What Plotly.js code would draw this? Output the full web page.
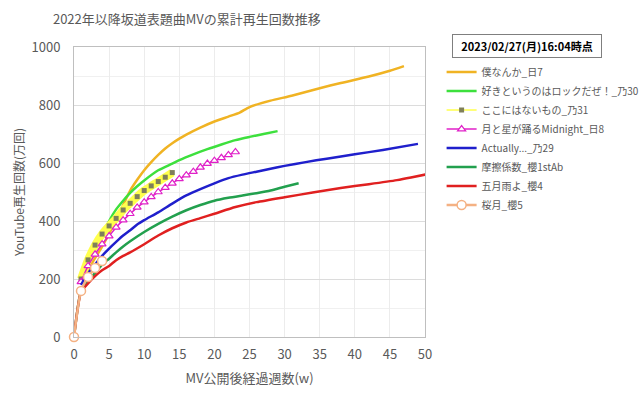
<!DOCTYPE html>
<html>
<head>
<meta charset="utf-8">
<script src="https://cdn.plot.ly/plotly-3.0.1.min.js"></script>
<style>html,body{margin:0;padding:0;background:#fff;}#chart{width:640px;height:397px;}</style>
</head>
<body>
<div id="chart"></div>
<script>
// Series names
const seriesNames = ["僕なんか_日7","好きというのはロックだぜ！_乃30","ここにはないもの_乃31","月と星が踊るMidnight_日8","Actually..._乃29","摩擦係数_櫻1stAb","五月雨よ_櫻4","桜月_櫻5"];

// 僕なんか_日7
const bokuX = [1,2,3,4,5,6,7,8,9,10,11,12,13,14,15,16,18,20,22,23.6,25,28,31,35,38,42,45,47];
const bokuY = [190,232,272,312,356,405,455,505,542,575,603,628,650,668,684,698,722,743,760,774,793,815,832,858,876,898,918,934];

// 好きというのはロックだぜ！_乃30
const sukiX = [1,2,3,4,5,6,7,8,9,10,12,14,15,17,19,21,23,25,27,29];
const sukiY = [200,255,300,350,400,440,470,497,520,540,575,598,610,630,648,664,679,690,700,710];

// ここにはないもの_乃31
const kokoX = [1,2,3,4,5,6,7,8,9,10,11,12,13,14];
const kokoY = [200,266,317,355,383,409,438,461,484,505,521,536,551,567];

// 月と星が踊るMidnight_日8
const tsukiX = [1,2,3,4,5,6,7,8,9,10,11,12,13,14,15,16,17,18,19,20,21,22,23];
const tsukiY = [190,245,285,320,348,378,403,425,447,465,483,500,515,530,545,558,570,585,598,608,618,628,638];

// Actually..._乃29
const actX = [1,2,3,4,5,6,7,8,9,10,12,14,16,18,20,22,24,26,28,30,33,36,40,44,49];
const actY = [180,220,250,280,305,328,350,368,388,403,430,460,488,510,530,548,560,570,580,590,603,615,630,645,666];

// 摩擦係数_櫻1stAb
const masaX = [0,1,2,3,4,5,6,7,8,10,12,14,16,18,20,22,24,26,28,30,32];
const masaY = [0,160,195,220,250,270,292,312,330,362,390,415,437,455,470,480,488,496,505,518,530];

// 五月雨よ_櫻4
const samiX = [0,1,2,3,4,5,6,7,8,10,12,14,16,18,20,23,26,30,34,38,42,46,48,51];
const samiY = [0,155,185,210,230,245,265,280,292,320,350,375,395,410,425,448,465,482,498,514,527,541,550,565];

// 桜月_櫻5
const sakuX = [0,1,2,3,4];
const sakuY = [0,159,207,238,262];

const xTicks = [0,5,10,15,20,25,30,35,40,45,50];
const yTicks = [0,200,400,600,800,1000];

const FONT = '"Noto Sans CJK JP", "Noto Sans", sans-serif';
const sp = {shape:'spline', smoothing:0.6};

const traces = [
  {x:bokuX, y:bokuY, name:seriesNames[0], mode:'lines', line:Object.assign({color:'#F0B323', width:2.5}, sp)},
  {x:sukiX, y:sukiY, name:seriesNames[1], mode:'lines', line:Object.assign({color:'#3DE03D', width:2.5}, sp)},
  {x:kokoX, y:kokoY, name:seriesNames[2], mode:'lines', showlegend:false, hoverinfo:'skip', line:Object.assign({color:'#FFFF4D', width:8}, sp)},
  {x:kokoX, y:kokoY, name:seriesNames[2], mode:'lines+markers', line:Object.assign({color:'#FFFF4D', width:1.5}, sp), marker:{symbol:'square', size:5, color:'#7F7F5A'}},
  {x:tsukiX, y:tsukiY, name:seriesNames[3], mode:'lines+markers', line:Object.assign({color:'#E020C8', width:1.5}, sp), marker:{symbol:'triangle-up', size:7, color:'#ffffff', line:{color:'#E020C8', width:1.2}}},
  {x:actX, y:actY, name:seriesNames[4], mode:'lines', line:Object.assign({color:'#1F1FCC', width:2.5}, sp)},
  {x:masaX, y:masaY, name:seriesNames[5], mode:'lines', line:Object.assign({color:'#22A04E', width:2.5}, sp)},
  {x:samiX, y:samiY, name:seriesNames[6], mode:'lines', line:Object.assign({color:'#E02020', width:2.5}, sp)},
  {x:sakuX, y:sakuY, name:seriesNames[7], mode:'lines+markers', cliponaxis:false, line:Object.assign({color:'#F4B183', width:2.5}, sp), marker:{symbol:'circle', size:9, color:'#ffffff', line:{color:'#F4B183', width:1.5}}}
];

const layout = {
  width:640, height:397,
  margin:{l:74, r:215, t:47, b:60, autoexpand:false},
  paper_bgcolor:'#ffffff', plot_bgcolor:'#ffffff',
  font:{family:FONT, color:'#595959', size:12},
  title:{text:'2022年以降坂道表題曲MVの累計再生回数推移', font:{family:FONT, size:13, color:'#595959'}, xref:'container', x:0.292, xanchor:'center', yref:'container', y:0.95, yanchor:'middle'},
  xaxis:{range:[0,50], tickvals:xTicks, ticktext:xTicks.map(String), showgrid:true, gridcolor:'#ececec', gridwidth:1,
    zeroline:false, showline:true, mirror:true, linecolor:'#bfbfbf', linewidth:1, ticks:'outside', ticklen:5, tickcolor:'rgba(0,0,0,0)', tickfont:{size:13, color:'#595959'},
    title:{text:'MV公開後経過週数(w)', font:{size:13, color:'#595959'}, standoff:12}},
  yaxis:{range:[0,1000], tickvals:yTicks, ticktext:yTicks.map(String), showgrid:true, gridcolor:'#dcdcdc', gridwidth:1,
    minor:{dtick:100, showgrid:true, gridcolor:'#f0f0f0', ticks:''},
    zeroline:false, showline:true, mirror:true, linecolor:'#bfbfbf', linewidth:1, ticks:'outside', ticklen:10, tickcolor:'rgba(0,0,0,0)', tickfont:{size:13, color:'#595959'},
    title:{text:'YouTube再生回数(万回)', font:{size:12, color:'#595959'}, standoff:4}},
  legend:{xref:'container', yref:'container', x:0.69, xanchor:'left', y:0.855, yanchor:'top', font:{size:10, color:'#595959', family:FONT}, itemwidth:30, tracegroupgap:0, bgcolor:'rgba(0,0,0,0)'},
  annotations:[{xref:'paper', yref:'paper', x:(527-74)/351, y:(337-46)/290, xanchor:'center', yanchor:'middle', showarrow:false,
    text:'<b>2023/02/27(月)16:04時点</b>', font:{size:11, color:'#000000', family:FONT},
    bordercolor:'#7f7f7f', borderwidth:1, borderpad:3, bgcolor:'#ffffff', width:142}],
  showlegend:true
};

Plotly.newPlot('chart', traces, layout, {displayModeBar:false, staticPlot:true});
</script>
</body>
</html>
